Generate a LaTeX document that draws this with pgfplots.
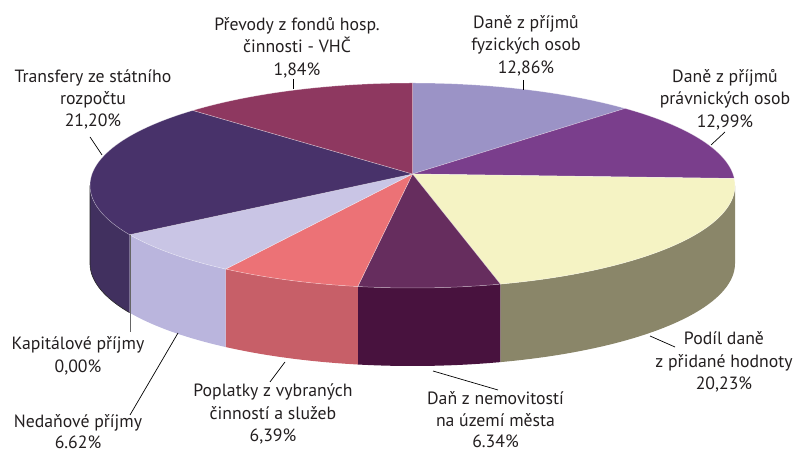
\documentclass[border=0pt]{standalone}
\usepackage{pgfplots}
\pgfplotsset{compat=1.18}
\usepackage{pgfplotstable}
\usepgfplotslibrary{fillbetween}
\usepackage{fontspec}
\setmainfont{PT Sans}

\definecolor{cLav}{HTML}{9B93C6}
\definecolor{cPur}{HTML}{7A3E8C}
\definecolor{cYel}{HTML}{F5F3C4}
\definecolor{cYelS}{HTML}{8A8669}
\definecolor{cPlum}{HTML}{662D5E}
\definecolor{cPlumS}{HTML}{48123E}
\definecolor{cSal}{HTML}{EC7276}
\definecolor{cSalS}{HTML}{C75F68}
\definecolor{cPale}{HTML}{C9C5E5}
\definecolor{cPaleS}{HTML}{BAB5DD}
\definecolor{cDark}{HTML}{48326A}
\definecolor{cDarkS}{HTML}{41305F}
\definecolor{cMar}{HTML}{8E3860}
\definecolor{txt}{HTML}{231F20}

% shares of the slices, clockwise from 12 o'clock (as drawn)
\pgfplotstableread{
share
12.86
12.99
20.23
6.34
6.39
6.62
0.00
21.20
13.37
}\piedata

\def\cx{412.5}\def\cy{269.5}\def\rx{322.5}\def\ry{102.5}\def\dep{78}
\def\apx{412.5}\def\apy{281}

\newcommand\topslice[2]{%
  \edef\ts{\csname s#1\endcsname}\edef\te{\csname e#1\endcsname}%
  \addplot[fill=#2, draw=white, draw opacity=0.45, line width=0.5bp, mark=none,
    variable=\t, domain=\te:\ts, samples=90]
   ({\cx+\rx*cos(\t+7*cos(\t))},{\cy+\ry*sin(\t+7*cos(\t))}) -- (axis cs:\apx,\apy) -- cycle;
}
\newcommand\sideslice[2]{%
  \pgfmathsetmacro\hi{min(\csname s#1\endcsname,-7)}%
  \pgfmathsetmacro\lo{max(\csname e#1\endcsname,-173)}%
  \ifdim\hi pt>\lo pt
  \addplot[draw=none, mark=none, name path=T#1, variable=\t, domain=\lo:\hi, samples=70]
   ({\cx+\rx*cos(\t+7*cos(\t))},{\cy+\ry*sin(\t+7*cos(\t))});
  \addplot[draw=none, mark=none, name path=B#1, variable=\t, domain=\lo:\hi, samples=70]
   ({\cx+\rx*cos(\t+7*cos(\t))},{\cy-\dep+\ry*sin(\t+7*cos(\t))});
  \addplot[fill=#2, draw=none] fill between[of=T#1 and B#1];
  \fi
}

\begin{document}
\begin{tikzpicture}
\xdef\cum{90}
\foreach \i in {0,...,8}{%
  \pgfplotstablegetelem{\i}{share}\of\piedata
  \pgfmathsetmacro\nxt{\cum-3.6*\pgfplotsretval}%
  \expandafter\xdef\csname s\i\endcsname{\cum}%
  \expandafter\xdef\csname e\i\endcsname{\nxt}%
  \xdef\cum{\nxt}%
}
\begin{axis}[x=1bp, y=1bp, xmin=0, xmax=796, ymin=0, ymax=455,
  hide axis, clip=false, scale only axis]
\path (rel axis cs:0,0) rectangle (rel axis cs:1,1);
% side walls
\sideslice{2}{cYelS}
\sideslice{3}{cPlumS}
\sideslice{4}{cSalS}
\sideslice{5}{cPaleS}
\sideslice{7}{cDarkS}
% outline on the left
\pgfmathsetmacro\dlo{-\csname s7\endcsname}
\addplot[draw=black!85, line width=0.6bp, mark=none, variable=\t, domain=\dlo:173, samples=50]
  ({\cx+\rx*cos(-\t+7*cos(-\t))},{\cy-\dep+\ry*sin(-\t+7*cos(-\t))}) -- (axis cs:{\cx-\rx},\cy);
% top faces
\topslice{0}{cLav}
\topslice{1}{cPur}
\topslice{2}{cYel}
\topslice{3}{cPlum}
\topslice{4}{cSal}
\topslice{5}{cPale}
\topslice{7}{cDark}
\topslice{8}{cMar}

% leader lines
\draw[black, line width=0.7bp] (axis cs:293,376) -- (axis cs:293,366);
\draw[black, line width=0.7bp] (axis cs:523,375) -- (axis cs:523,365);
\draw[black, line width=0.7bp] (axis cs:725,323) -- (axis cs:711,310);
\draw[black, line width=0.7bp] (axis cs:650,119) -- (axis cs:675,108);
\draw[black, line width=0.7bp] (axis cs:433,84) -- (axis cs:498,65);
\draw[black, line width=0.7bp] (axis cs:285,93) -- (axis cs:270,73);
\draw[black, line width=0.7bp] (axis cs:178,122) -- (axis cs:130,40);
\draw[black!60, line width=0.8bp] (axis cs:130,220) -- (axis cs:130,123);
\draw[black, line width=0.7bp] (axis cs:90,318) -- (axis cs:102,300);

% labels
\tikzset{lab/.style={align=center, text=txt, inner sep=0pt, font=\fontsize{17.8}{22.5}\selectfont}}
\node[lab] at (axis cs:297,407.5) {Převody z fondů hosp.\\činnosti - VHČ\\1,84\%};
\node[lab] at (axis cs:526,409.5) {Daně z příjmů\\fyzických osob\\12,86\%};
\node[lab] at (axis cs:725,355.5) {Daně z příjmů\\právnických osob\\12,99\%};
\node[lab] at (axis cs:724,93) {Podíl daně\\z přidané hodnoty\\20,23\%};
\node[lab, font=\fontsize{17.8}{21.5}\selectfont] at (axis cs:495.5,35) {Daň z nemovitostí\\na území města\\6.34\%};
\node[lab] at (axis cs:273,41) {Poplatky z vybraných\\činností a služeb\\6,39\%};
\node[lab, font=\fontsize{17.8}{21}\selectfont] at (axis cs:78,23) {Nedaňové příjmy\\6.62\%};
\node[lab] at (axis cs:78,99) {Kapitálové příjmy\\0,00\%};
\node[lab] at (axis cs:93,355.5) {Transfery ze státního\\rozpočtu\\21,20\%};
\end{axis}
\end{tikzpicture}
\end{document}
